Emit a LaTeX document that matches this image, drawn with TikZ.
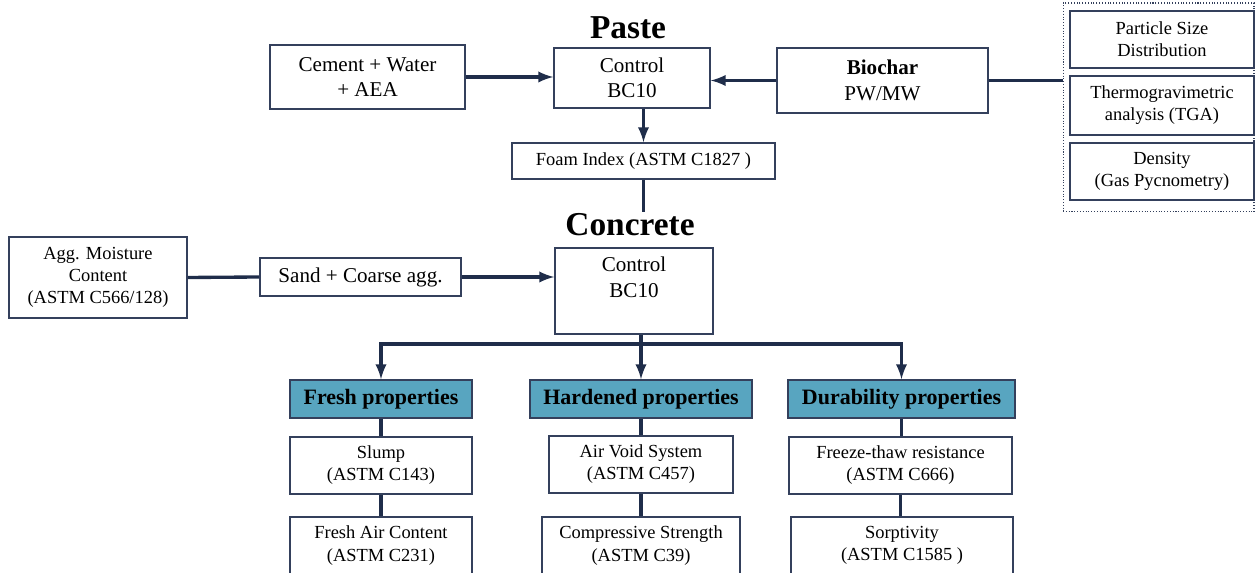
\documentclass[tikz,border=0pt]{standalone}
\usepackage{fontspec}
\setmainfont{Liberation Serif}
\usepackage{tikz}
\usetikzlibrary{arrows}
\definecolor{navy}{RGB}{31,45,74}
\definecolor{edge}{RGB}{52,64,92}
\definecolor{teal}{RGB}{88,165,192}
\tikzset{
  box/.style={draw=edge,line width=0.9pt,fill=white,align=center,inner sep=2pt,
    font=\fontsize{12}{14.5}\selectfont},
  smallbox/.style={box,font=\fontsize{10.5}{12.6}\selectfont},
  head/.style={box,fill=teal,font=\fontsize{12.5}{14}\selectfont\bfseries},
  title/.style={font=\fontsize{19}{22}\selectfont\bfseries,inner sep=1pt},
  conn/.style={draw=navy,line width=1.9pt},
  arr/.style={conn,-latex}
}
\begin{document}
\begin{tikzpicture}[x=0.02cm,y=-0.02cm]
      \useasboundingbox (0,0) rectangle (1255,573);
      % paste stage
      \node[title] (ptitle) at (628,28) {Paste};
      \node[box,minimum width=3.9cm,minimum height=1.28cm] (cw) at (367.5,77) {Cement + Water\\+ AEA};
      \node[box,minimum width=3.12cm,minimum height=1.2cm] (pctl) at (632,78) {Control\\BC10};
      \node[box,minimum width=4.22cm,minimum height=1.3cm] (bio) at (882.5,80.5) {\textbf{Biochar}\\PW/MW};
      \node[smallbox,minimum width=5.26cm,minimum height=0.72cm] (foam) at (643.5,161) {Foam Index (ASTM C1827 )};
      \node[draw=edge,densely dotted,line width=0.6pt,minimum width=3.82cm,minimum height=4.18cm] (charz) at (1158.5,107.5) {};
      \node[smallbox,minimum width=3.68cm,minimum height=1.14cm] (psd) at (1162,39.5) {Particle Size\\Distribution};
      \node[smallbox,minimum width=3.68cm,minimum height=1.18cm] (tga) at (1162,105.5) {Thermogravimetric\\analysis (TGA)};
      \node[smallbox,minimum width=3.68cm,minimum height=1.14cm] (dens) at (1162,171.5) {Density\\(Gas Pycnometry)};
      \draw[arr] (cw.east) -- (pctl.west |- cw.east);
      \draw[arr] (bio.west) -- (pctl.east |- bio.west);
      \draw[arr] (pctl.south -| foam.north) -- (foam.north);
      \draw[conn] (bio.east) -- (charz.west |- bio.east);
      % concrete stage
      \node[title] (ctitle) at (630,225) {Concrete};
      \draw[conn] (foam.south) -- (foam.south |- ctitle.north);
      \node[smallbox,minimum width=3.56cm,minimum height=1.62cm] (moist) at (98,277.5) {Agg. Moisture\\Content\\(ASTM C566/128)};
      \node[box,minimum width=4.02cm,minimum height=0.76cm] (sand) at (360.5,277) {Sand + Coarse agg.};
      \node[box,minimum width=3.16cm,minimum height=1.72cm] (cctl) at (634,291) {Control\\BC10\\[0.05cm]};
      \draw[conn] (moist.east) -- (sand.west);
      \draw[arr] (sand.east) -- (cctl.west |- sand.east);
      % test groups
      \node[head,minimum width=3.64cm,minimum height=0.76cm] (fresh) at (381,399) {Fresh properties};
      \node[head,minimum width=4.44cm,minimum height=0.76cm] (hard) at (641,399) {Hardened properties};
      \node[head,minimum width=4.54cm,minimum height=0.76cm] (dura) at (901.5,399) {Durability properties};
      \coordinate (split) at (641,344);
      \draw[conn] (cctl.south -| split) -- (split);
      \draw[arr] (split) -| (fresh.north);
      \draw[arr] (split) -- (hard.north);
      \draw[arr] (split) -| (dura.north);
      \node[smallbox,minimum width=3.64cm,minimum height=1.14cm] (slump) at (381,465.5) {Slump\\(ASTM C143)};
      \node[smallbox,minimum width=3.64cm,minimum height=1.14cm] (fair) at (381,545.5) {Fresh Air Content\\(ASTM C231)};
      \node[smallbox,minimum width=3.68cm,minimum height=1.14cm] (avs) at (641,464.5) {Air Void System\\(ASTM C457)};
      \node[smallbox,minimum width=3.96cm,minimum height=1.14cm] (comp) at (641,545.5) {Compressive Strength\\(ASTM C39)};
      \node[smallbox,minimum width=4.46cm,minimum height=1.14cm] (ft) at (900.5,465.5) {Freeze-thaw resistance\\(ASTM C666)};
      \node[smallbox,minimum width=4.44cm,minimum height=1.14cm] (sorp) at (902,545.5) {Sorptivity\\(ASTM C1585 )};
      \draw[conn] (fresh) -- (slump) -- (fair);
      \draw[conn] (hard) -- (avs) -- (comp);
      \draw[conn] (dura.south) -- (dura.south |- ft.north);
      \draw[conn] (ft.south) -- (ft.south |- sorp.north);
    \end{tikzpicture}
\end{document}
